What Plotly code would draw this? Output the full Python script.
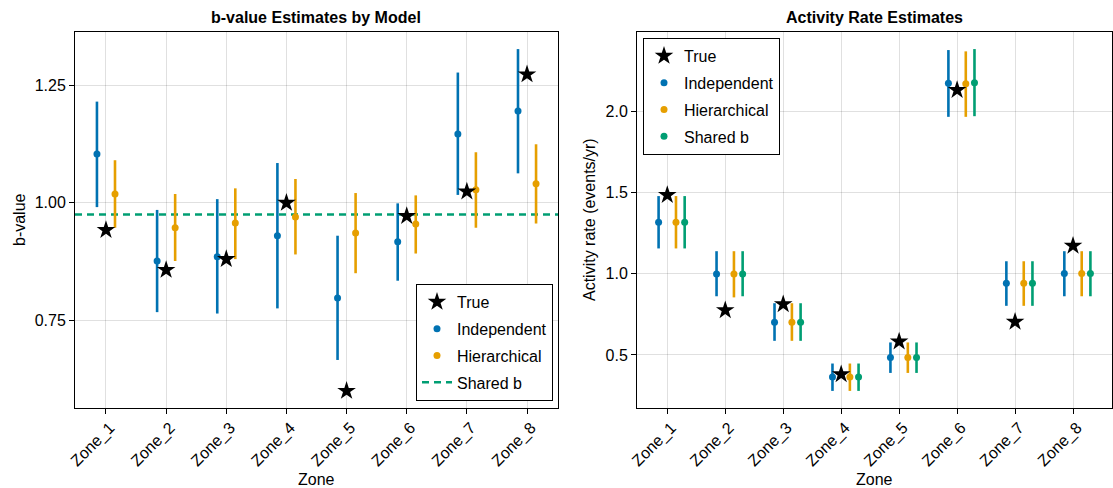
import plotly.graph_objects as go

# ---- data -------------------------------------------------------------
zones = ["Zone_1", "Zone_2", "Zone_3", "Zone_4", "Zone_5", "Zone_6", "Zone_7", "Zone_8"]

# b-value estimates
b_true = [0.942, 0.857, 0.880, 1.000, 0.599, 0.972, 1.024, 1.274]
b_ind = [1.104, 0.876, 0.885, 0.930, 0.797, 0.917, 1.147, 1.196]
b_ind_lo = [0.991, 0.767, 0.764, 0.775, 0.665, 0.834, 1.017, 1.063]
b_ind_hi = [1.216, 0.985, 1.008, 1.085, 0.930, 0.999, 1.278, 1.328]
b_hier = [1.019, 0.947, 0.957, 0.970, 0.936, 0.955, 1.028, 1.041]
b_hier_lo = [0.947, 0.876, 0.880, 0.890, 0.850, 0.892, 0.947, 0.956]
b_hier_hi = [1.091, 1.019, 1.031, 1.051, 1.021, 1.016, 1.108, 1.125]
b_shared = 0.975

# activity rate estimates (events/yr)
rate_true = [1.486, 0.776, 0.813, 0.381, 0.583, 2.134, 0.704, 1.173]
rate_ind = [1.319, 1.000, 0.702, 0.364, 0.484, 2.177, 0.943, 1.002]
rate_ind_lo = [1.157, 0.862, 0.587, 0.278, 0.389, 1.969, 0.803, 0.862]
rate_ind_hi = [1.480, 1.140, 0.819, 0.447, 0.577, 2.381, 1.078, 1.140]
rate_hier = [1.319, 1.000, 0.702, 0.364, 0.484, 2.173, 0.943, 1.002]
rate_hier_lo = [1.157, 0.855, 0.587, 0.278, 0.389, 1.969, 0.803, 0.862]
rate_hier_hi = [1.480, 1.140, 0.819, 0.447, 0.577, 2.373, 1.078, 1.140]
rate_shr = [1.319, 1.000, 0.702, 0.364, 0.484, 2.179, 0.943, 1.002]
rate_shr_lo = [1.157, 0.862, 0.587, 0.278, 0.389, 1.973, 0.803, 0.862]
rate_shr_hi = [1.480, 1.140, 0.819, 0.447, 0.577, 2.387, 1.078, 1.140]

# ---- styling ----------------------------------------------------------
BLUE = "#0072B2"
ORANGE = "#E69F00"
GREEN = "#009E73"
FONT = "Liberation Sans, Arial, sans-serif"
W, H = 1113, 488

pos = list(range(1, len(zones) + 1))


def shift(d):
    return [p + d for p in pos]


def padded(lo, hi, frac=0.05):
    span = hi - lo
    return [lo - frac * span, hi + frac * span]


def err(center, lo, hi):
    return dict(type="data", symmetric=False,
                array=[h - c for c, h in zip(center, hi)],
                arrayminus=[c - l for c, l in zip(center, lo)])


fig = go.Figure()


def est_trace(x, y, lo, hi, color, name, xa, ya, legend, rank):
    e = err(y, lo, hi)
    e.update(color=color, thickness=2.6, width=0)
    return go.Scatter(x=x, y=y, mode="markers", name=name,
                      marker=dict(color=color, size=7, symbol="circle"),
                      error_y=e, xaxis=xa, yaxis=ya, legend=legend,
                      legendgroup=f"{legend}-{name}", legendrank=rank)


def star_trace(y, xa, ya, legend):
    return go.Scatter(x=pos, y=y, mode="markers", name="True",
                      marker=dict(color="black", size=14, symbol="star",
                                  line=dict(width=0)),
                      xaxis=xa, yaxis=ya, legend=legend,
                      legendgroup=f"{legend}-True", legendrank=1)


# left panel: b-value
xr1 = padded(pos[0] - 0.15, pos[-1] + 0.15)
yr1 = padded(min(b_true + b_ind_lo + b_hier_lo), max(b_true + b_ind_hi + b_hier_hi))

fig.add_trace(go.Scatter(x=xr1, y=[b_shared, b_shared], mode="lines", name="Shared b",
                         line=dict(color=GREEN, width=2.5, dash="7px,5px"),
                         xaxis="x", yaxis="y", legend="legend",
                         legendgroup="legend-Shared", legendrank=4))
fig.add_trace(est_trace(shift(-0.15), b_ind, b_ind_lo, b_ind_hi, BLUE, "Independent", "x", "y", "legend", 2))
fig.add_trace(est_trace(shift(0.15), b_hier, b_hier_lo, b_hier_hi, ORANGE, "Hierarchical", "x", "y", "legend", 3))
fig.add_trace(star_trace(b_true, "x", "y", "legend"))

# right panel: activity rate
xr2 = padded(pos[0] - 0.15, pos[-1] + 0.30)
yr2 = padded(min(rate_true + rate_ind_lo + rate_hier_lo + rate_shr_lo),
             max(rate_true + rate_ind_hi + rate_hier_hi + rate_shr_hi))

fig.add_trace(est_trace(shift(-0.15), rate_ind, rate_ind_lo, rate_ind_hi, BLUE, "Independent", "x2", "y2", "legend2", 2))
fig.add_trace(est_trace(shift(0.15), rate_hier, rate_hier_lo, rate_hier_hi, ORANGE, "Hierarchical", "x2", "y2", "legend2", 3))
fig.add_trace(est_trace(shift(0.30), rate_shr, rate_shr_lo, rate_shr_hi, GREEN, "Shared b", "x2", "y2", "legend2", 4))
fig.add_trace(star_trace(rate_true, "x2", "y2", "legend2"))

# ---- axes -------------------------------------------------------------
ydom = [1 - 408 / H, 1 - 32 / H]
dom1 = [75 / W, 558 / W]
dom2 = [637 / W, 1112 / W]

common = dict(showline=True, linecolor="black", linewidth=1, mirror=True,
              ticks="outside", ticklen=5, tickcolor="black", tickwidth=1,
              showgrid=True, gridcolor="rgba(0,0,0,0.12)", gridwidth=1,
              zeroline=False, automargin=False,
              tickfont=dict(family=FONT, size=16, color="black"))
xcommon = dict(tickvals=pos, ticktext=zones, tickangle=-45,
               ticklabelshift=4, ticklabelstandoff=-2)

fig.update_layout(
    xaxis=dict(domain=dom1, range=xr1, anchor="y", **xcommon, **common),
    yaxis=dict(domain=ydom, range=yr1, dtick=0.25, tick0=0, tickformat=".2f",
               anchor="x", **common),
    xaxis2=dict(domain=dom2, range=xr2, anchor="y2", **xcommon, **common),
    yaxis2=dict(domain=ydom, range=yr2, dtick=0.5, tick0=0, tickformat=".1f",
                anchor="x2", **common),
)

legend_common = dict(bgcolor="white", bordercolor="black", borderwidth=1,
                     font=dict(family=FONT, size=16, color="black"),
                     traceorder="grouped", itemsizing="trace", tracegroupgap=3)
fig.update_layout(
    legend=dict(x=553 / W, y=1 - 401 / H, xanchor="right", yanchor="bottom",
                xref="paper", yref="paper", **legend_common),
    legend2=dict(x=643 / W, y=1 - 38 / H, xanchor="left", yanchor="top",
                 xref="paper", yref="paper", **legend_common),
)

# ---- titles -----------------------------------------------------------
def label(text, x, y, size=16, angle=0):
    return dict(text=text, x=x, y=y, xref="paper", yref="paper", showarrow=False,
                xanchor="center", yanchor="middle", textangle=angle,
                font=dict(family=FONT, size=size, color="black"))


ann = [
    label("<b>b-value Estimates by Model</b>", (dom1[0] + dom1[1]) / 2, 1 - 18 / H),
    label("<b>Activity Rate Estimates</b>", (dom2[0] + dom2[1]) / 2, 1 - 18 / H),
    label("Zone", (dom1[0] + dom1[1]) / 2, 1 - 479 / H),
    label("Zone", (dom2[0] + dom2[1]) / 2, 1 - 479 / H),
    label("b-value", 20 / W, (ydom[0] + ydom[1]) / 2, angle=-90),
    label("Activity rate (events/yr)", 590 / W, (ydom[0] + ydom[1]) / 2, angle=-90),
]

fig.update_layout(
    annotations=ann,
    width=W, height=H,
    margin=dict(l=0, r=0, t=0, b=0),
    paper_bgcolor="white", plot_bgcolor="white",
    font=dict(family=FONT, size=16, color="black"),
)

fig.write_html("out.html")
